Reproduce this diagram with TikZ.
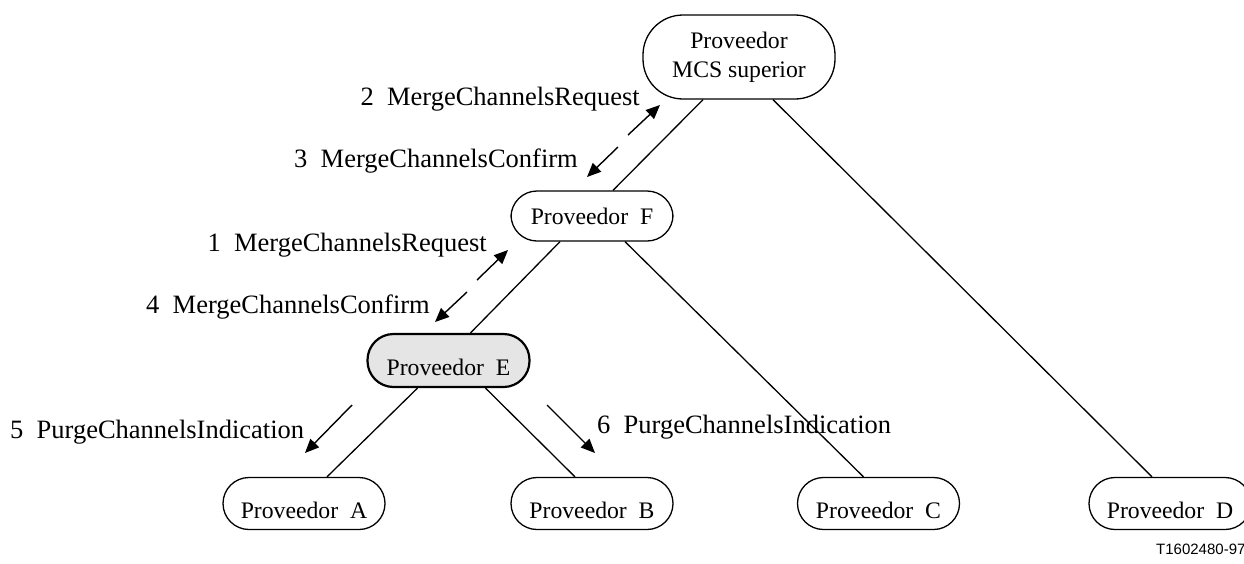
\documentclass[tikz,border=0pt]{standalone}
\usepackage{fontspec}
\setmainfont{Liberation Serif}
\newfontfamily\tagsans{Liberation Sans}
\usetikzlibrary{arrows.meta}
\newcommand\provfont{\fontsize{23.7}{29}\selectfont}
\newcommand\msgfont{\fontsize{26.5}{30}\selectfont}
\tikzset{
  prov/.style={draw, line width=1.3pt, rounded corners=26pt, minimum width=162pt,
    minimum height=52pt, inner sep=0pt, font=\provfont},
  low/.style={text height=31pt},
  link/.style={line width=1.3pt},
  msg/.style={line width=1.4pt, -{Triangle[length=14pt,width=12pt]}},
  lbl/.style={inner sep=0pt, font=\msgfont}
}
\begin{document}
\begin{tikzpicture}[x=1pt,y=-1pt]
\useasboundingbox (0,0) rectangle (1244,563);
\clip (0,0) rectangle (1244,563);

% provider tree
\node[prov, minimum width=192pt, minimum height=84pt, rounded corners=40pt, align=center]
  (top) at (739,57) {Proveedor\\MCS superior};
\node[prov, minimum height=50pt] (F) at (592,216) {Proveedor~~F};
\node[prov, low, text height=30pt, line width=2.2pt, fill=black!10, minimum height=53pt]
  (E) at (448.5,360.5) {Proveedor~~E};
\node[prov, low] (A) at (304,503.5) {Proveedor~~A};
\node[prov, low] (B) at (592,503.5) {Proveedor~~B};
\node[prov, low] (C) at (878.5,503.5) {Proveedor~~C};
\node[prov, low] (D) at (1170,503.5) {Proveedor~~D};

\draw[link] ([xshift=-36pt]top.south) -- ([xshift=21pt]F.north);
\draw[link] ([xshift=34pt]top.south) -- ([xshift=-18pt]D.north);
\draw[link] ([xshift=-32pt]F.south) -- ([xshift=22pt]E.north);
\draw[link] ([xshift=33pt]F.south) -- ([xshift=-15pt]C.north);
\draw[link] ([xshift=-31pt]E.south) -- ([xshift=23pt]A.north);
\draw[link] ([xshift=37pt]E.south) -- ([xshift=-17pt]B.north);

% message arrows
\coordinate (m2s) at (628,135); \coordinate (m2e) at (660,105);
\coordinate (m3s) at (618,147); \coordinate (m3e) at (587,177);
\coordinate (m1s) at (477,280); \coordinate (m1e) at (508,250);
\coordinate (m4s) at (467,292); \coordinate (m4e) at (435,322);
\coordinate (m5s) at (352,405); \coordinate (m5e) at (305,453);
\coordinate (m6s) at (547,405); \coordinate (m6e) at (595,453);
\draw[msg] (m2s) -- (m2e);
\draw[msg] (m3s) -- (m3e);
\draw[msg] (m1s) -- (m1e);
\draw[msg] (m4s) -- (m4e);
\draw[msg] (m5s) -- (m5e);
\draw[msg] (m6s) -- (m6e);

% message labels
\node[lbl, anchor=base east] (t2) at (640,105) {2~~MergeChannelsRequest};
\node[lbl, anchor=base east] (t3) at (578,167) {3~~MergeChannelsConfirm};
\node[lbl, anchor=base east] (t1) at (487,251) {1~~MergeChannelsRequest};
\node[lbl, anchor=base east] (t4) at (430,313) {4~~MergeChannelsConfirm};
\node[lbl, anchor=base west] (t5) at (10,438) {5~~PurgeChannelsIndication};
\node[lbl, anchor=base west] (t6) at (597,433) {6~~PurgeChannelsIndication};

% figure reference
\node[inner sep=0pt, anchor=base west, font=\tagsans\fontsize{15}{17}\selectfont]
  (ref) at (1156,554) {T1602480-97};
\end{tikzpicture}
\end{document}
